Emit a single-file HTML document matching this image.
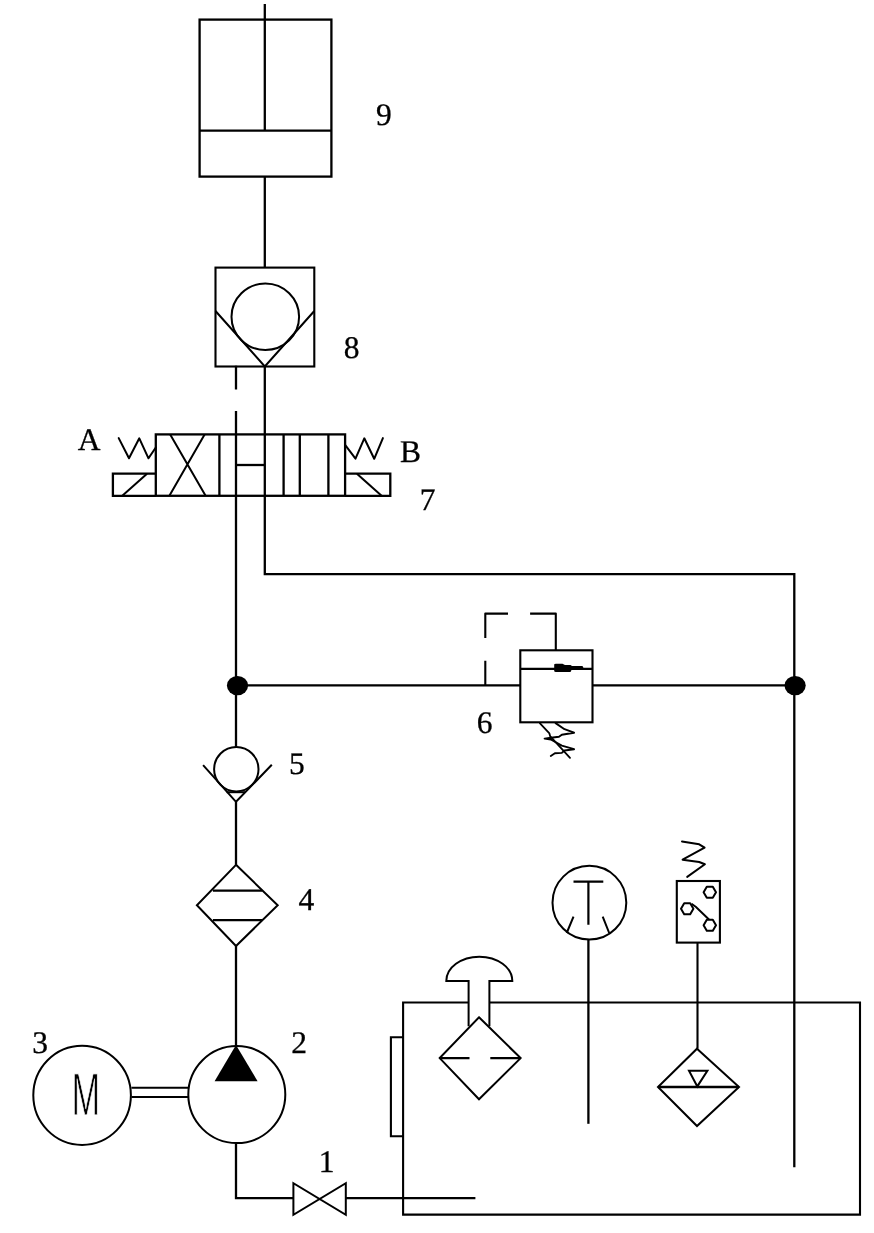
<!DOCTYPE html>
<html lang="en">
<head>
<meta charset="utf-8">
<title>Hydraulic circuit diagram</title>
<style>
html,body{margin:0;padding:0;background:#fff;}
body{width:874px;height:1233px;overflow:hidden;position:relative;}
svg{position:absolute;left:0;top:0;display:block;will-change:transform;}
.l{fill:none;stroke:#000;stroke-width:2.3;stroke-linecap:butt;stroke-linejoin:miter;}
.t{fill:none;stroke:#000;stroke-width:2;stroke-linecap:butt;stroke-linejoin:miter;}
.s{fill:none;stroke:#000;stroke-width:2;stroke-linecap:round;stroke-linejoin:round;}
.f{fill:#000;stroke:none;}
.n{font-family:"Liberation Serif",serif;font-size:31.5px;fill:#000;stroke:#000;stroke-width:0.3;text-rendering:geometricPrecision;}
.m{font-family:"Liberation Sans",sans-serif;font-size:60px;fill:#000;stroke:#fff;stroke-width:1;paint-order:fill stroke;text-rendering:geometricPrecision;}
</style>
</head>
<body>
<svg width="874" height="1233" viewBox="0 0 874 1233">
<rect x="0" y="0" width="874" height="1233" fill="#fff"/>

<!-- 9: cylinder -->
<g id="cyl">
<rect class="l" x="199.6" y="19.6" width="131.8" height="157"/>
<path class="l" d="M199.6 130.7H331.4"/>
<path class="l" d="M264.8 4V130.7"/>
<path class="l" d="M264.8 176.6V267"/>
</g>

<!-- 8: pilot check valve -->
<g id="pcv">
<rect class="l" style="stroke-width:2.1" x="215.5" y="267.6" width="98.8" height="98.9"/>
<ellipse class="t" cx="265.3" cy="316.7" rx="33.8" ry="33.2"/>
<path class="t" d="M215.5 311L264.8 366.5L314.3 311"/>
</g>

<!-- lines between 8 and 7 -->
<path class="l" d="M236 365.8V389.5M236 411V685.5"/>
<path class="l" d="M264.8 365.8V574.1H794.3V685.5"/>

<!-- 7: directional valve -->
<g id="dcv">
<rect class="l" x="155.8" y="434.4" width="189.3" height="61.4"/>
<path class="l" d="M219.4 434.4V495.8M283.6 434.4V495.8M299.8 434.4V495.8M328.4 434.4V495.8"/>
<path class="l" d="M236 465H264.8"/>
<path class="t" d="M170.2 434.6L205.6 495.8M204.6 434.6L169.4 495.8"/>
<!-- left solenoid -->
<path class="l" d="M155.8 473.7H112.9V495.8H155.8"/>
<path class="t" d="M122.3 495.8L147 473.7"/>
<path class="s" d="M118.7 438.1L129 458.3L139.3 438.3L148.5 458.3L155.8 447.5"/>
<!-- right solenoid -->
<path class="l" d="M345.1 473.7H390.3V495.8H345.1"/>
<path class="t" d="M356.9 473.7L381.6 495.8"/>
<path class="s" d="M345.1 444.8L355.5 458.6L364.3 438.3L374.2 458.8L382.9 438.1"/>
</g>

<!-- main pressure line & junctions -->
<path class="l" d="M236 685.3H520.3M592.5 685.3H794.3"/>
<ellipse class="f" cx="237.5" cy="685.6" rx="10.6" ry="9.7"/>
<ellipse class="f" cx="795.1" cy="685.6" rx="10.6" ry="9.7"/>
<path class="l" d="M794.3 685.5V1167.3"/>

<!-- 6: relief valve -->
<g id="rv">
<rect class="l" style="stroke-width:2.1" x="520.3" y="650.3" width="72.2" height="72"/>
<path class="l" d="M520.3 668.8H592.5"/>
<path class="f" d="M554.2 664.6Q554.2 663.8 556 663.8H562.5L565 665H570.5L572 666H582.5L583.5 668V670H571.5L570.5 672H556Q554.2 672 554.2 671Z"/>
<path class="l" style="stroke-width:2.1;stroke-linejoin:round" d="M485.3 685.3V660.7M485.3 638V613.6H508M530.1 613.6H555.8V650.3"/>
<path class="s" style="stroke-width:1.9" d="M555.6 723.1L564.5 729.2L574.1 732.7L561.8 734.7L559 736.8L550.8 737.8L544.6 738.6L550.8 739.5L561.8 745.7L574.1 749.2L564.5 750.5L561.8 752.9L554.9 753.3L550.8 756"/>
<path class="s" style="stroke-width:1.8" d="M539.8 723.1L549.4 733.4L550.1 736.1L570 757.8"/>
</g>

<!-- 5: check valve -->
<g id="cv">
<path class="l" d="M236 685.5V747"/>
<circle class="t" cx="236.3" cy="769.2" r="22.2"/>
<path class="t" d="M203.1 765.2L236 801.8L271.8 764.8"/>
<path class="t" d="M226.7 792.2H245"/>
<path class="l" d="M236 801.8V864.8"/>
</g>

<!-- 4: filter -->
<g id="flt">
<path class="t" d="M236 864.8L277.7 905.3L236 946L196.9 905.3Z"/>
<path class="l" d="M212.9 890.7H262.1M212.9 920.1H262.1"/>
<path class="l" d="M236 946V1046"/>
</g>

<!-- 2: pump -->
<g id="pump">
<circle class="t" cx="236.8" cy="1094.6" r="48.5"/>
<path class="f" d="M236 1045L257.6 1081.3H214.6Z"/>
<path class="l" d="M236 1143.3V1198.2H293.4M345.8 1198.2H475.4"/>
</g>

<!-- 3: motor -->
<g id="motor">
<ellipse class="t" cx="82.1" cy="1095.3" rx="48.8" ry="49.6"/>
<path class="t" d="M131.4 1087.7H188.6M131.4 1097H188.4"/>
<text class="m" transform="translate(85.7 1114.5) scale(0.571 1)" text-anchor="middle">M</text>
</g>

<!-- 1: shut-off valve -->
<path class="t" d="M293.4 1183.2V1214.8L345.8 1183.2V1214.8Z"/>

<!-- tank -->
<g id="tank">
<path class="l" style="stroke-width:2.1" d="M468.6 1002.5H403.1V1214.6H860V1002.5H489.4"/>
<path class="l" style="stroke-width:2.1" d="M403.1 1037.3H390.9V1136.3H403.1"/>
</g>

<!-- breather / filler -->
<g id="breather">
<path class="t" d="M468.6 1026.3V981H446.3A33 24.3 0 0 1 512.3 981H489.4V1026.3"/>
<path class="t" d="M479 1017.3L520.6 1058.1L479 1099.2L439.7 1058.1Z"/>
<path class="l" d="M439.7 1058.1H469.5M490.3 1058.1H520.6"/>
</g>

<!-- thermometer -->
<g id="thermo">
<circle class="t" cx="589.4" cy="902.7" r="36.9"/>
<path class="l" style="stroke-width:2.2" d="M573.5 881.7H603.3M588.4 881.7V924.7"/>
<path class="t" d="M573.5 916.7L566.7 933M602.7 916.7L609.2 933"/>
<path class="l" d="M588.4 939.6V1123.8"/>
</g>

<!-- pressure switch -->
<g id="psw">
<rect class="l" style="stroke-width:2.1" x="676.8" y="881" width="43.1" height="61.6"/>
<path class="t" style="stroke-width:2;stroke-linejoin:round" d="M703.6 892.3L706.8 886.8L712.8 886.8L716.0 892.3L712.8 897.8L706.8 897.8Z"/>
<path class="t" style="stroke-width:2;stroke-linejoin:round" d="M681.0 908.7L684.2 903.2L690.2 903.2L693.4 908.7L690.2 914.2L684.2 914.2Z"/>
<path class="t" style="stroke-width:2;stroke-linejoin:round" d="M703.6 925.2L706.8 919.7L712.8 919.7L716.0 925.2L712.8 930.7L706.8 930.7Z"/>
<path class="t" style="stroke-width:2" d="M691.5 903.8L696 907L709 919.5"/>
<path class="s" style="stroke-width:2" d="M687.2 876.9L704.9 864.3L699.2 862L682.6 859.7L704.6 847.7L699.2 844.3L682 841.4"/>
<path class="l" style="stroke-width:2.1" d="M697.5 942.6V1048.7"/>
</g>

<!-- level gauge diamond -->
<g id="lvl">
<path class="t" d="M697 1048.7L739 1087L697 1126L658 1087Z"/>
<path class="l" d="M658 1087H739"/>
<path class="t" d="M689 1070.7H707.4L697.3 1086.4Z"/>
</g>

<!-- labels -->
<text class="n" x="376.0" y="124.9">9</text>
<text class="n" x="343.8" y="358.0">8</text>
<text class="n" x="419.8" y="510.3">7</text>
<text class="n" x="476.8" y="732.6">6</text>
<text class="n" x="289.1" y="774.2">5</text>
<text class="n" x="298.4" y="909.6">4</text>
<text class="n" x="32.2" y="1053.1">3</text>
<text class="n" x="291.2" y="1052.9">2</text>
<text class="n" x="318.7" y="1172.0">1</text>
<text class="n" x="77.7" y="449.8">A</text>
<text class="n" x="400.1" y="462.0">B</text>
</svg>
</body>
</html>
